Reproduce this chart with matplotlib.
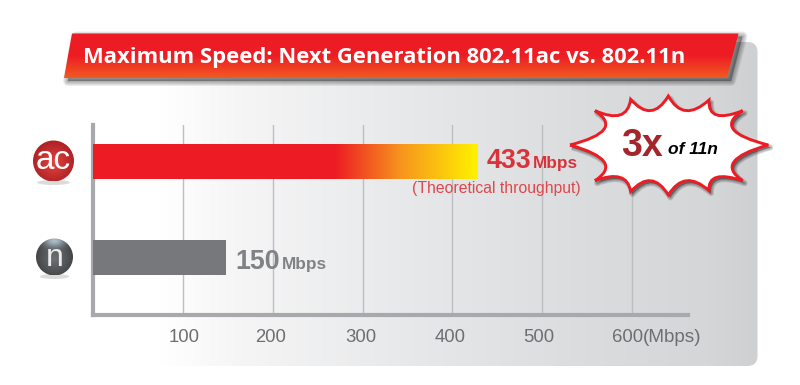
import numpy as np
import matplotlib
matplotlib.use("Agg")
import matplotlib.pyplot as plt
import matplotlib.patheffects as pe
from matplotlib.colors import LinearSegmentedColormap, to_rgb
from matplotlib.patches import Circle, Ellipse, FancyBboxPatch, PathPatch, Polygon
from matplotlib.path import Path
from matplotlib.transforms import ScaledTranslation

categories = ["ac", "n"]
bar_lengths = [428, 148]  # where the bars really end against the axis
speed_labels = ["433", "150"]
ticks = [100, 200, 300, 400, 500, 600]
tick_labels = ["100", "200", "300", "400", "500", "600"]
title = "Maximum Speed: Next Generation 802.11ac vs. 802.11n"

W, H = 800, 385
fig = plt.figure(figsize=(8, 3.85), dpi=100, facecolor="white")


def pixel_axes(z):
    a = fig.add_axes([0, 0, 1, 1], zorder=z)
    a.set_axis_off()
    a.patch.set_alpha(0)
    return a


def fix_limits(a):
    a.set_xlim(0, W)
    a.set_ylim(H, 0)
    a.set_aspect("auto")


def shadow(a, patch_func, dx, dy, z, widths, alpha):
    # fake blur, stacked soft outlines
    for lw in widths:
        p = patch_func(dx, dy)
        p.set(facecolor="black", edgecolor="black", alpha=alpha, linewidth=lw * 0.72, zorder=z,
              joinstyle="round")
        a.add_patch(p)


# background panel
back = pixel_axes(0)
panel_cmap = LinearSegmentedColormap.from_list(
    "panel",
    [(0, "#ffffff"), (0.13, "#ffffff"), (0.25, "#f5f5f6"), (0.5, "#e7e8e9"),
     (0.75, "#dbdcde"), (0.93, "#d5d6d8"), (1, "#cfd0d2")],
)
grad = np.linspace(0, 1, 512).reshape(1, -1)
im = back.imshow(grad, extent=(70, 757.5, 366, 42), cmap=panel_cmap, aspect="auto", zorder=1)
panel = FancyBboxPatch((80, 52), 667.5, 304, boxstyle="round,pad=10,rounding_size=10",
                       transform=back.transData, facecolor="none", edgecolor="none")
back.add_patch(panel)
im.set_clip_path(panel)
fix_limits(back)

# chart
x0_px, x600_px = 93.3, 632.0
px_per_unit = (x600_px - x0_px) / 600
xmax = (688 - x0_px) / px_per_unit
top_px, bottom_px = 125, 314.7
ax = fig.add_axes([x0_px / W, 1 - bottom_px / H, (688 - x0_px) / W, (bottom_px - top_px) / H], zorder=1)
ax.patch.set_alpha(0)
ax.set_xlim(0, xmax)
row_px = 96.0
ax.set_ylim(-(bottom_px - 257.5) / row_px, (257.5 - top_px) / row_px)
y_pos = [1, 0]

for t in ticks:
    ax.axvline(t, color="#bcbec0", lw=1.0, zorder=1)

bars = ax.barh(y_pos, bar_lengths, height=35 / row_px, color=["#ed1c24", "#77787b"], zorder=2)
bar_cmap = LinearSegmentedColormap.from_list(
    "hot", [(0, "#ed1c24"), (0.63, "#ed1c24"), (0.8, "#f7941d"), (1, "#fff200")])
gim = ax.imshow(grad, extent=(0, bar_lengths[0], y_pos[0] - 0.2, y_pos[0] + 0.2),
                cmap=bar_cmap, aspect="auto", zorder=3)
gim.set_clip_path(bars[0])
ax.set_xlim(0, xmax)
ax.set_ylim(-(bottom_px - 257.5) / row_px, (257.5 - top_px) / row_px)

for s in ["top", "right"]:
    ax.spines[s].set_visible(False)
for s in ["left", "bottom"]:
    ax.spines[s].set_color("#a7a9ac")
    ax.spines[s].set_linewidth(3.0)
    ax.spines[s].set_zorder(1.5)
ax.set_yticks([])
ax.set_xticks(ticks)
ax.set_xticklabels(tick_labels, fontsize=13.3, color="#6d6e71", family="Liberation Sans")
ax.tick_params(axis="x", length=0, pad=10)
nudges = [1, -2, -2, -2, -3, -4]
for lab, dx in zip(ax.get_xticklabels(), nudges):
    lab.set_transform(lab.get_transform() + ScaledTranslation(dx / 100, 0, fig.dpi_scale_trans))

# overlay: banner, badges, labels, star
top = pixel_axes(2)
top.text(643, 342, "(Mbps)", fontsize=13.6, color="#6d6e71", family="Liberation Sans",
         ha="left", va="baseline", zorder=6)


def banner_poly(dx=0, dy=0):
    pts = [(72, 33.5), (738.5, 33.5), (727, 78), (64, 78)]
    return Polygon([(x + dx, y + dy) for x, y in pts], closed=True)


shadow(top, banner_poly, 4, 3, 2, [10, 8, 6, 4, 2], 0.07)
banner_cmap = LinearSegmentedColormap.from_list(
    "banner", [(0, "#ed1c24"), (0.5, "#ed1c24"), (1, "#f15a22")])
bim = top.imshow(np.linspace(0, 1, 128).reshape(-1, 1), extent=(60, 742, 78, 33.5),
                 cmap=banner_cmap, aspect="auto", zorder=3)
clip = banner_poly()
clip.set(facecolor="none", edgecolor="none")
top.add_patch(clip)
bim.set_clip_path(clip)
top.text(384.5, 57, title, color="white", fontsize=15.85, fontweight="bold", family="Open Sans",
         ha="center", va="center", zorder=4)


def badge(cx, cy, r, centre, edge, glow=None):
    yy, xx = np.mgrid[-1:1:200j, -1:1:200j]
    d = np.clip(np.sqrt(xx ** 2 + (yy - 0.1) ** 2) / 1.15, 0, 1)[..., None]
    img = (1 - d) * np.array(to_rgb(centre)) + d * np.array(to_rgb(edge))
    if glow:
        g = np.exp(-(xx ** 2 / 0.35 + (yy + 0.85) ** 2 / 0.12))[..., None]
        img = (1 - g) * img + g * np.array(to_rgb(glow))
    top.add_patch(Ellipse((cx, cy + r + 1), r * 1.6, 5, facecolor="#8a8a8a", alpha=0.3, edgecolor="none", zorder=4))
    i = top.imshow(img, extent=(cx - r, cx + r, cy + r, cy - r), aspect="auto", zorder=5)
    c = Circle((cx, cy), r, facecolor="none", edgecolor="none")
    top.add_patch(c)
    i.set_clip_path(c)


badge(53.5, 161, 20.5, "#e2453f", "#aa1e22")
top.text(53.5, 169, categories[0], color="white", fontsize=24, family="Liberation Sans",
         ha="center", va="baseline", zorder=6)
badge(54.5, 257, 18.5, "#707174", "#3e3f41", glow="#a9bcc8")
top.text(55.2, 265.5, categories[1], color="#ececec", fontsize=23, family="Liberation Sans",
         ha="center", va="baseline", zorder=6)

# value labels
top.text(487, 168, speed_labels[0], color="#d9323a", fontsize=19.3, fontweight="bold",
         family="Liberation Sans", ha="left", va="baseline", zorder=6)
top.text(532.5, 168, "Mbps", color="#d9323a", fontsize=12.4, fontweight="bold",
         family="Liberation Sans", ha="left", va="baseline", zorder=6)
top.text(496, 188, "(Theoretical throughput)", color="#e0474c", fontsize=11.3, family="Liberation Sans",
         ha="center", va="center", zorder=6)
top.text(235, 269, speed_labels[1], color="#808285", fontsize=19.3, fontweight="bold",
         family="Liberation Sans", ha="left", va="baseline", zorder=6)
top.text(282, 269, "Mbps", color="#808285", fontsize=12.4, fontweight="bold",
         family="Liberation Sans", ha="left", va="baseline", zorder=6)

# star burst, coordinates from the 3x crop
tips = [(30, 165), (105, 62), (212, 28), (325, 18), (447, 30), (548, 62),
        (625, 165), (548, 272), (447, 302), (325, 315), (212, 305), (105, 272)]
valleys = [(132, 118), (180, 75), (272, 62), (378, 62), (470, 75), (520, 118),
           (522, 215), (470, 262), (380, 272), (272, 272), (180, 262), (132, 215)]


def star_patch(dx=0, dy=0):
    verts, codes = [], []
    for i, (t, v) in enumerate(zip(tips, valleys)):
        a = np.array(t, float)
        b = np.array(tips[(i + 1) % len(tips)], float)
        ctrl = 2 * np.array(v, float) - (a + b) / 2
        if i == 0:
            verts.append(a / 3)
            codes.append(Path.MOVETO)
        verts += [ctrl / 3, b / 3]
        codes += [Path.CURVE3, Path.CURVE3]
    verts = np.array(verts) + [560 + dx, 90 + dy]
    return PathPatch(Path(verts, codes), joinstyle="miter")


shadow(top, star_patch, 2, 2.5, 7, [6, 4, 2], 0.13)
s = star_patch()
s.set(facecolor="white", edgecolor="#ed1c24", linewidth=2.1, zorder=8)
top.add_patch(s)
top.text(621.5, 156, "3x", color="#a4262c", fontsize=27, fontweight="bold", family="Liberation Sans",
         ha="left", va="baseline", zorder=9)
top.text(668, 154.5, "of 11n", color="black", fontsize=12.5, fontweight="bold", style="italic",
         family="Liberation Sans", ha="left", va="baseline", zorder=9)
fix_limits(top)

fig.savefig("out.png", dpi=100)
